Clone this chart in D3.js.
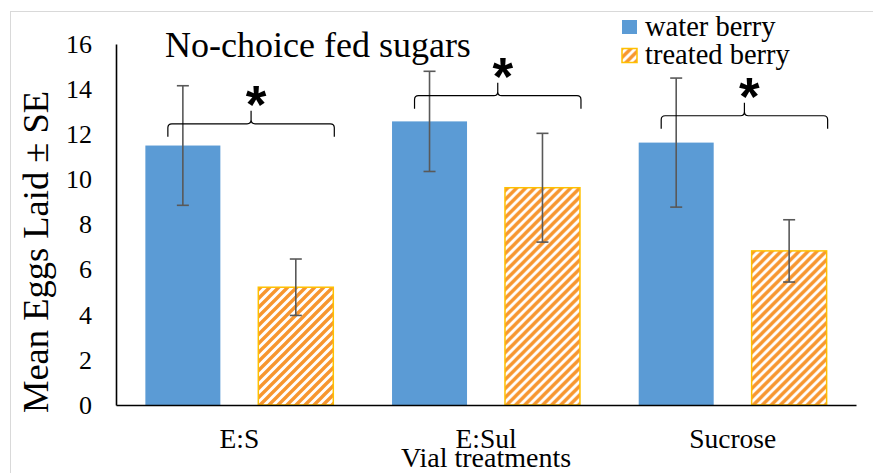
<!DOCTYPE html>
<html>
<head>
<meta charset="utf-8">
<script src="https://cdn.jsdelivr.net/npm/d3@7/dist/d3.min.js"></script>
<style>
  html, body { margin: 0; padding: 0; background: #fff; }
  svg { display: block; }
</style>
</head>
<body>
<svg id="chart" width="873" height="473"></svg>
<script>
// Vial treatments and the two berry series
const categories = ["E:S", "E:Sul", "Sucrose"];
const seriesNames = ["water berry", "treated berry"];
const waterMean = [11.5, 12.57, 11.63];
const waterSE = [2.65, 2.22, 2.86];
const treatedMean = [5.22, 9.63, 6.83];
const treatedSE = [1.25, 2.41, 1.38];
const yTicks = [0, 2, 4, 6, 8, 10, 12, 14, 16];
// height (in eggs) of the significance bracket over each pair
const bracketLevel = [12.46, 13.71, 12.82];
const sigLabel = ["*", "*", "*"];

const SERIF = "'Liberation Serif', 'Times New Roman', serif";
const plot = { left: 116, right: 856, top: 44, bottom: 405 };

const svg = d3.select("#chart");

// outer chart frame
svg.append("rect")
  .attr("x", 10.5).attr("y", 11.5)
  .attr("width", 900).attr("height", 500)
  .attr("fill", "none").attr("stroke", "#d9d9d9").attr("stroke-width", 1);

// diagonal hatch for the treated series
const defs = svg.append("defs");
const pat = defs.append("pattern")
  .attr("id", "hatch").attr("patternUnits", "userSpaceOnUse")
  .attr("width", 9).attr("height", 9);
pat.append("rect").attr("width", 9).attr("height", 9).attr("fill", "#fff");
pat.append("path")
  .attr("d", "M-2,2 L2,-2 M0,9 L9,0 M7,11 L11,7")
  .attr("stroke", "#F7962F").attr("stroke-width", 3.4);

const x0 = d3.scaleBand().domain(categories).range([plot.left, plot.right]).padding(0);
const x1 = d3.scaleBand().domain(seriesNames).range([0, x0.bandwidth()])
  .paddingInner(0.336).paddingOuter(0.26);
const y = d3.scaleLinear().domain([0, 16]).range([plot.bottom, plot.top]);

const rows = categories.map((c, i) => ({
  cat: c,
  vals: [
    { s: seriesNames[0], m: waterMean[i], se: waterSE[i] },
    { s: seriesNames[1], m: treatedMean[i], se: treatedSE[i] }
  ]
}));

const groups = svg.append("g").selectAll("g").data(rows).join("g")
  .attr("transform", d => `translate(${x0(d.cat)},0)`);

groups.selectAll("rect").data(d => d.vals).join("rect")
  .attr("x", d => x1(d.s))
  .attr("y", d => y(d.m))
  .attr("width", x1.bandwidth())
  .attr("height", d => y(0) - y(d.m))
  .attr("fill", d => d.s === seriesNames[0] ? "#5B9BD5" : "url(#hatch)")
  .attr("stroke", d => d.s === seriesNames[0] ? "none" : "#FFC000")
  .attr("stroke-width", 1.5);

// error bars
const eb = groups.selectAll("g.err").data(d => d.vals).join("g").attr("class", "err")
  .attr("stroke", "#595959").attr("stroke-width", 1.6);
const cx = d => x1(d.s) + x1.bandwidth() / 2;
eb.append("line")
  .attr("x1", cx).attr("x2", cx)
  .attr("y1", d => y(d.m + d.se)).attr("y2", d => y(d.m - d.se));
eb.append("line")
  .attr("x1", d => cx(d) - 6).attr("x2", d => cx(d) + 6)
  .attr("y1", d => y(d.m + d.se)).attr("y2", d => y(d.m + d.se));
eb.append("line")
  .attr("x1", d => cx(d) - 6).attr("x2", d => cx(d) + 6)
  .attr("y1", d => y(d.m - d.se)).attr("y2", d => y(d.m - d.se));

// significance brackets
function bracePath(xa, xb, yy) {
  const xm = (xa + xb) / 2, r = 4;
  return `M${xa},${yy + 13} L${xa},${yy + r} Q${xa},${yy} ${xa + r},${yy} L${xm - r},${yy} ` +
    `Q${xm},${yy} ${xm},${yy - r} L${xm},${yy - 13} M${xm},${yy - r} Q${xm},${yy} ${xm + r},${yy} ` +
    `L${xb - r},${yy} Q${xb},${yy} ${xb},${yy + r} L${xb},${yy + 13}`;
}
rows.forEach((d, i) => {
  const xa = x0(d.cat) + x1(seriesNames[0]) + x1.bandwidth() * 0.3;
  const xb = x0(d.cat) + x1(seriesNames[1]) + x1.bandwidth() + 1;
  const yy = y(bracketLevel[i]);
  svg.append("path").attr("d", bracePath(xa, xb, yy))
    .attr("fill", "none").attr("stroke", "#000").attr("stroke-width", 1.2);
  svg.append("text")
    .attr("x", (xa + xb) / 2 + 5).attr("y", yy - 1)
    .attr("text-anchor", "middle")
    .style("font-family", "'Liberation Sans', Arial, sans-serif")
    .style("font-weight", "bold").style("font-size", "53px")
    .text(sigLabel[i]);
});

// axes
const yAxis = d3.axisLeft(y).tickValues(yTicks).tickSize(0).tickPadding(24);
const gy = svg.append("g").attr("transform", `translate(${plot.left},0)`).call(yAxis);
gy.attr("font-family", null);
gy.select(".domain").attr("stroke", "#000").attr("stroke-width", 1.6);
gy.selectAll("text").style("font-family", SERIF).style("font-size", "26px").attr("fill", "#000");

const xAxis = d3.axisBottom(x0).tickSize(0).tickPadding(23);
const gx = svg.append("g").attr("transform", `translate(0,${plot.bottom})`).call(xAxis);
gx.attr("font-family", null);
gx.select(".domain").attr("stroke", "#000").attr("stroke-width", 1.6);
gx.selectAll("text").style("font-family", SERIF).style("font-size", "27.5px").attr("fill", "#000");

// titles
svg.append("text").attr("x", 165).attr("y", 56.5)
  .style("font-family", SERIF).style("font-size", "36px")
  .text("No-choice fed sugars");
svg.append("text").attr("x", 486).attr("y", 467).attr("text-anchor", "middle")
  .style("font-family", SERIF).style("font-size", "28px").text("Vial treatments");
svg.append("text")
  .attr("transform", "translate(48,252) rotate(-90)")
  .attr("text-anchor", "middle")
  .style("font-family", SERIF).style("font-size", "36.5px")
  .text("Mean Eggs Laid ± SE");

// legend
const lg = svg.append("g").attr("transform", "translate(622,20)");
const li = lg.selectAll("g").data(seriesNames).join("g")
  .attr("transform", (d, i) => `translate(0,${i * 28.5})`);
li.append("rect").attr("width", 15).attr("height", 14)
  .attr("fill", (d, i) => i === 0 ? "#5B9BD5" : "url(#hatch)")
  .attr("stroke", (d, i) => i === 0 ? "none" : "#FFC000").attr("stroke-width", 1.5);
li.append("text").attr("x", 23).attr("y", 15.5)
  .style("font-family", SERIF).style("font-size", "28.5px").text(d => d);
</script>
</body>
</html>
